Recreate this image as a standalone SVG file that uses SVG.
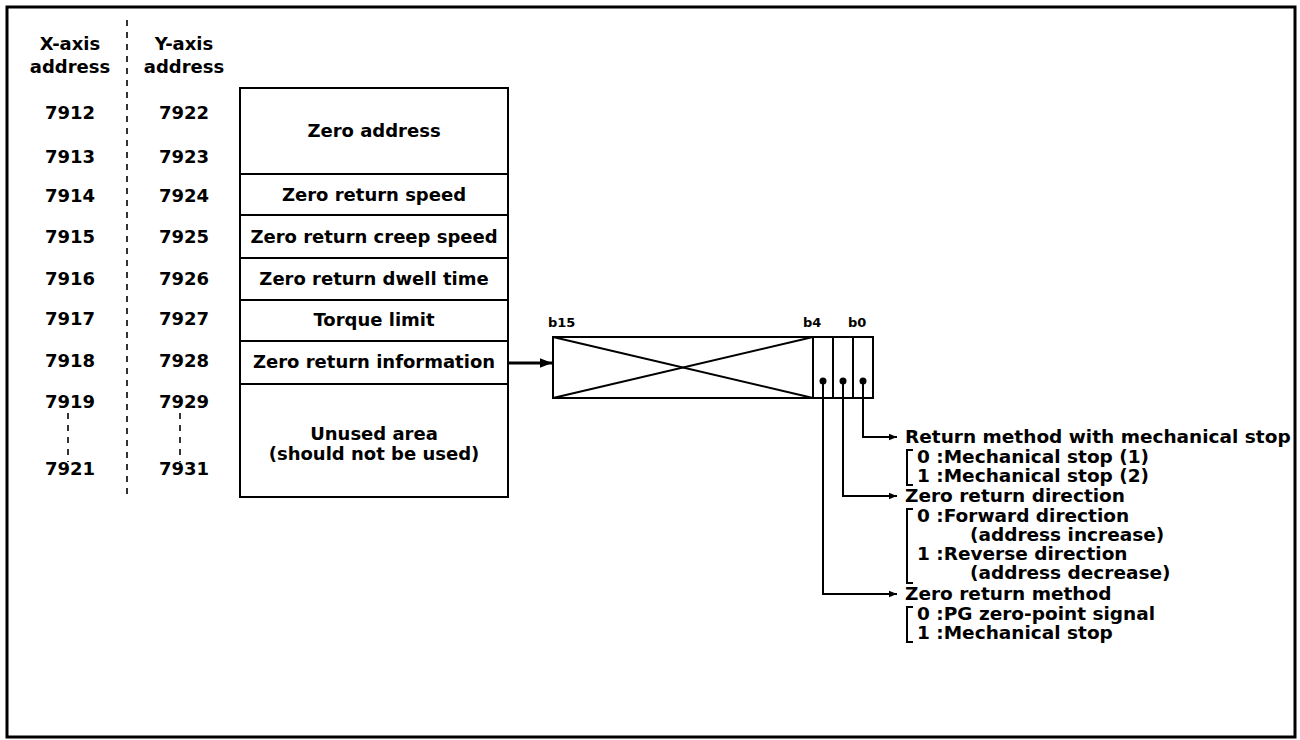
<svg xmlns="http://www.w3.org/2000/svg" width="1300" height="740" viewBox="0 0 1300 740">
<defs>
<style>
text{font-family:"DejaVu Sans","Liberation Sans",sans-serif;font-weight:bold;font-size:18px;fill:#000}
.c{text-anchor:middle}
.s{font-size:13px}
.r{font-size:18.5px}
.ln{fill:none;stroke:#000;stroke-width:2}
.box{fill:#fff;stroke:#000;stroke-width:2}
.dash{fill:none;stroke:#000;stroke-width:1.6;stroke-dasharray:6 6}
</style>
<marker id="ah" viewBox="0 0 10 10" refX="10" refY="5" markerWidth="4" markerHeight="4" orient="auto" markerUnits="strokeWidth">
<path d="M0,1 L10,5 L0,9 z" fill="#000"/>
</marker>
<marker id="ahs" viewBox="0 0 10 10" refX="10" refY="5" markerWidth="4" markerHeight="4" orient="auto" markerUnits="strokeWidth">
<path d="M0,1 L10,5 L0,9 z" fill="#000"/>
</marker>
</defs>
<rect x="0" y="0" width="1300" height="740" fill="#fff"/>
<rect x="7" y="7" width="1288" height="730" fill="none" stroke="#000" stroke-width="3"/>

<g id="headers">
<text class="c" x="70" y="50">X-axis</text>
<text class="c" x="70" y="73">address</text>
<text class="c" x="184" y="50">Y-axis</text>
<text class="c" x="184" y="73">address</text>
<line class="dash" x1="127" y1="20" x2="127" y2="497"/>
</g>

<g id="x-addresses">
<text class="c" x="70" y="119">7912</text>
<text class="c" x="70" y="163">7913</text>
<text class="c" x="70" y="202">7914</text>
<text class="c" x="70" y="243">7915</text>
<text class="c" x="70" y="285">7916</text>
<text class="c" x="70" y="325">7917</text>
<text class="c" x="70" y="367">7918</text>
<text class="c" x="70" y="408">7919</text>
<text class="c" x="70" y="475">7921</text>
<line class="dash" x1="68" y1="413" x2="68" y2="462"/>
</g>

<g id="y-addresses">
<text class="c" x="184" y="119">7922</text>
<text class="c" x="184" y="163">7923</text>
<text class="c" x="184" y="202">7924</text>
<text class="c" x="184" y="243">7925</text>
<text class="c" x="184" y="285">7926</text>
<text class="c" x="184" y="325">7927</text>
<text class="c" x="184" y="367">7928</text>
<text class="c" x="184" y="408">7929</text>
<text class="c" x="184" y="475">7931</text>
<line class="dash" x1="180" y1="413" x2="180" y2="462"/>
</g>

<g id="table">
<rect class="box" x="240" y="88" width="268" height="409"/>
<line class="ln" x1="240" y1="174" x2="508" y2="174"/>
<line class="ln" x1="240" y1="215" x2="508" y2="215"/>
<line class="ln" x1="240" y1="258" x2="508" y2="258"/>
<line class="ln" x1="240" y1="300" x2="508" y2="300"/>
<line class="ln" x1="240" y1="341" x2="508" y2="341"/>
<line class="ln" x1="240" y1="384" x2="508" y2="384"/>
<text class="c" x="374" y="137">Zero address</text>
<text class="c" x="374" y="201">Zero return speed</text>
<text class="c" x="374" y="243">Zero return creep speed</text>
<text class="c" x="374" y="285">Zero return dwell time</text>
<text class="c" x="374" y="326">Torque limit</text>
<text class="c" x="374" y="368">Zero return information</text>
<text class="c" x="374" y="440">Unused area</text>
<text class="c" x="374" y="460">(should not be used)</text>
</g>

<g id="register">
<rect class="box" x="553" y="337" width="320" height="61"/>
<line class="ln" x1="813" y1="337" x2="813" y2="398"/>
<line class="ln" x1="833" y1="337" x2="833" y2="398"/>
<line class="ln" x1="853" y1="337" x2="853" y2="398"/>
<line class="ln" x1="553" y1="337" x2="813" y2="398"/>
<line class="ln" x1="553" y1="398" x2="813" y2="337"/>
<circle cx="823" cy="381" r="3.5" fill="#000"/>
<circle cx="843" cy="381" r="3.5" fill="#000"/>
<circle cx="863" cy="381" r="3.5" fill="#000"/>
<text class="s" x="548" y="327">b15</text>
<text class="s" x="803" y="327">b4</text>
<text class="s" x="848" y="327">b0</text>
</g>

<g id="connectors">
<line x1="508" y1="363" x2="552" y2="363" stroke="#000" stroke-width="3" marker-end="url(#ah)"/>
<polyline class="ln" points="863,381 863,437 897,437" marker-end="url(#ahs)"/>
<polyline class="ln" points="843,381 843,496 897,496" marker-end="url(#ahs)"/>
<polyline class="ln" points="823,381 823,594 897,594" marker-end="url(#ahs)"/>
</g>

<g id="bit0-desc">
<text class="r" x="905" y="443">Return method with mechanical stop</text>
<path class="ln" d="M913,450 H907 V485 H913"/>
<text class="r" x="917" y="463">0 :Mechanical stop (1)</text>
<text class="r" x="917" y="482">1 :Mechanical stop (2)</text>
</g>

<g id="bit1-desc">
<text class="r" x="905" y="502">Zero return direction</text>
<path class="ln" d="M913,509 H907 V583 H913"/>
<text class="r" x="917" y="522">0 :Forward direction</text>
<text class="r" x="970" y="541">(address increase)</text>
<text class="r" x="917" y="560">1 :Reverse direction</text>
<text class="r" x="970" y="579">(address decrease)</text>
</g>

<g id="bit2-desc">
<text class="r" x="905" y="600">Zero return method</text>
<path class="ln" d="M913,607 H907 V642 H913"/>
<text class="r" x="917" y="620">0 :PG zero-point signal</text>
<text class="r" x="917" y="639">1 :Mechanical stop</text>
</g>
</svg>
